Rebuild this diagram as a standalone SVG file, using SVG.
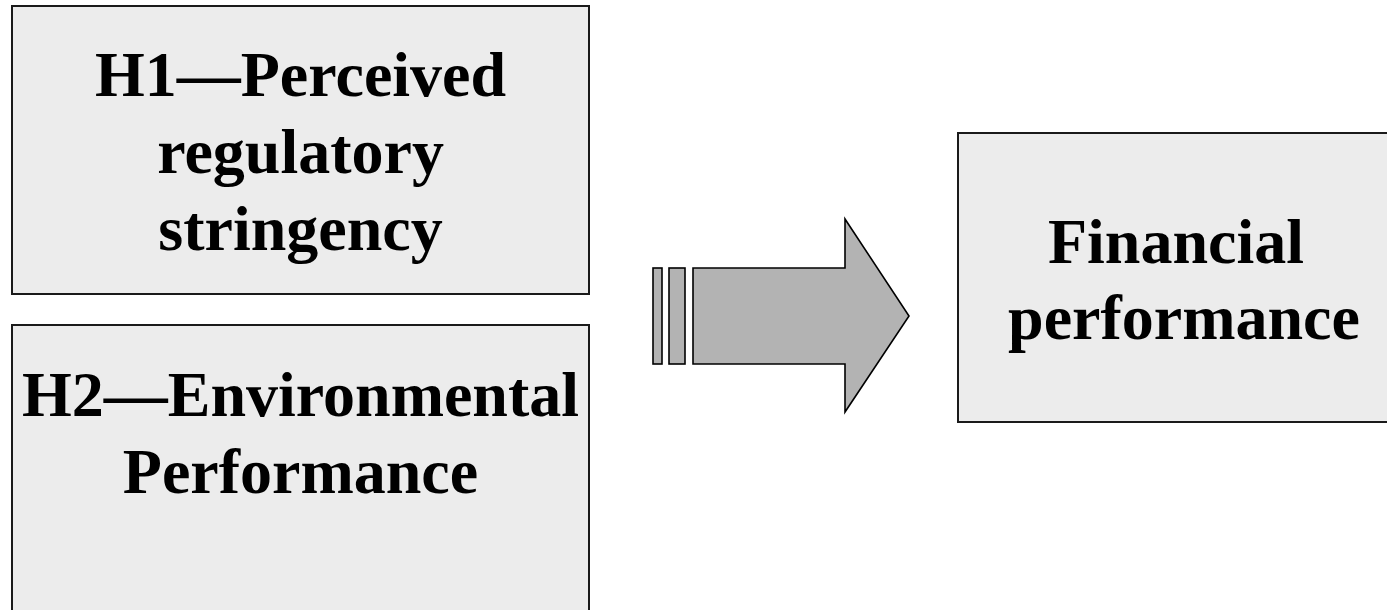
<svg xmlns="http://www.w3.org/2000/svg" width="1387" height="610" viewBox="0 0 1387 610">
<style>
.box{fill:#ececec;stroke:#1a1a1a;stroke-width:2}
.arr{fill:#b3b3b3;stroke:#000;stroke-width:1.6;stroke-linejoin:miter}
.t{font-family:"Liberation Serif","Times New Roman",serif;font-weight:bold;font-size:64px;fill:#000;text-anchor:middle}
</style>
<rect width="1387" height="610" fill="#fff"/>
<g id="h1">
<rect class="box" x="12" y="6" width="577" height="288"/>
<text class="t" x="300.5" y="96">H1—Perceived</text>
<text class="t" x="300.5" y="173">regulatory</text>
<text class="t" x="300.5" y="250">stringency</text>
</g>
<g id="h2">
<rect class="box" x="12" y="325" width="577" height="300"/>
<text class="t" x="300.5" y="416">H2—Environmental</text>
<text class="t" x="300.5" y="493">Performance</text>
</g>
<g id="fin">
<rect class="box" x="958" y="133" width="440" height="289"/>
<text class="t" x="1176" y="263">Financial</text>
<text class="t" x="1184" y="339">performance</text>
</g>
<g id="connectors">
<rect class="arr" x="653" y="268" width="9" height="96"/>
<rect class="arr" x="669" y="268" width="16" height="96"/>
<polygon class="arr" points="693,268 845,268 845,219 909,316 845,412 845,364 693,364"/>
</g>
</svg>
